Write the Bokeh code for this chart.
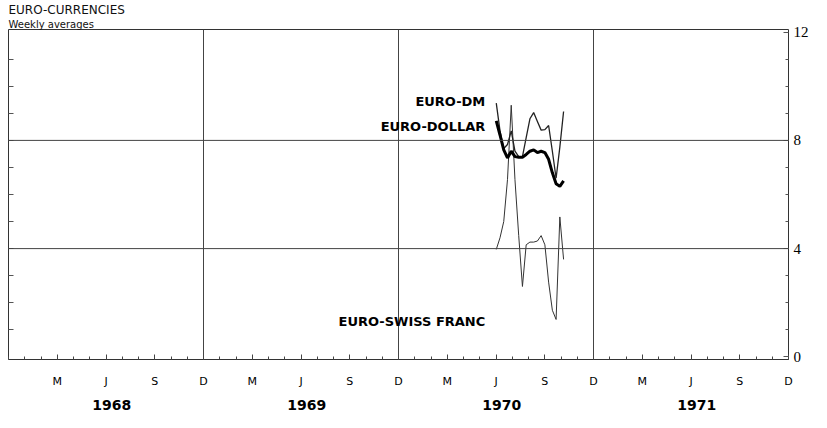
from datetime import date
from bokeh.plotting import figure
from bokeh.models import LinearAxis, FixedTicker, Label, Span, Range1d, Title
from bokeh.embed import file_html
from bokeh.resources import INLINE

# ---- data (weekly averages, percent) ----
week_dates = ["1970-07-03", "1970-07-10", "1970-07-17", "1970-07-24", "1970-07-31",
              "1970-08-07", "1970-08-14", "1970-08-21", "1970-08-28", "1970-09-04",
              "1970-09-11", "1970-09-18", "1970-09-25", "1970-10-02", "1970-10-09",
              "1970-10-16", "1970-10-23", "1970-10-30", "1970-11-06"]
euro_dm = [9.38, 8.35, 7.7, 7.85, 8.35, 7.6, 7.4, 7.4, 8.1, 8.8,
           9.03, 8.7, 8.38, 8.4, 8.55, 7.6, 6.6, 7.75, 9.07]
euro_dollar = [8.72, 8.2, 7.65, 7.35, 7.6, 7.4, 7.38, 7.38, 7.48, 7.6,
               7.65, 7.55, 7.6, 7.55, 7.3, 6.8, 6.4, 6.3, 6.5]
euro_swiss = [3.97, 4.4, 5.0, 6.55, 9.3, 6.55, 4.48, 2.6, 4.14, 4.24,
              4.24, 4.28, 4.48, 4.14, 2.76, 1.72, 1.38, 5.17, 3.6]

years = [1968, 1969, 1970, 1971]
month_tick_labels = ["M", "J", "S", "D"]
y_ticks = [0, 4, 8, 12]
series_names = ["EURO-DM", "EURO-DOLLAR", "EURO-SWISS FRANC"]


def dec_year(s):
    d = date.fromisoformat(s)
    return d.year + (d.timetuple().tm_yday - 1) / 365.0


xs = [dec_year(s) for s in week_dates]

p = figure(width=811, height=412, output_backend="svg", toolbar_location=None,
           x_range=Range1d(years[0], years[-1] + 1), y_range=Range1d(-0.1, 12.1),
           x_axis_location=None, y_axis_location=None,
           min_border_left=8, min_border_right=20, min_border_top=0, min_border_bottom=50,
           background_fill_color="white", border_fill_color="white")
p.xgrid.visible = False
p.ygrid.visible = False
p.outline_line_color = "#333333"
p.outline_line_width = 1

# titles
p.add_layout(Title(text="Weekly averages", text_font="DejaVu Sans", text_font_size="10px",
                   text_font_style="normal", text_color="#111111", align="left",
                   offset=0, standoff=0), "above")
p.add_layout(Title(text="EURO-CURRENCIES", text_font="DejaVu Sans", text_font_size="12px",
                   text_font_style="normal", text_color="#111111", align="left",
                   offset=0, standoff=0), "above")

# grid lines at year boundaries and at 4 / 8
for yr in years[1:]:
    p.add_layout(Span(location=yr, dimension="height", line_color="#444444", line_width=1))
for yv in y_ticks[1:-1]:
    p.add_layout(Span(location=yv, dimension="width", line_color="#444444", line_width=1))

# bottom month axis
q_ticks = [yr + k / 4 for yr in years for k in range(1, 5)]
m_ticks = [yr + k / 12 for yr in years for k in range(0, 13)]
xax = LinearAxis(ticker=FixedTicker(ticks=q_ticks, minor_ticks=m_ticks),
                 major_label_overrides={t: month_tick_labels[i % 4] for i, t in enumerate(q_ticks)},
                 axis_line_color=None, major_tick_in=5, major_tick_out=0,
                 minor_tick_in=3, minor_tick_out=0,
                 major_tick_line_color="#444444", minor_tick_line_color="#444444",
                 major_label_standoff=15, major_label_text_font="DejaVu Sans",
                 major_label_text_font_size="11px", major_label_text_color="#000000")
p.add_layout(xax, "below")

year_ticks = [yr + 0.53 for yr in years]
yax_lbl = LinearAxis(ticker=FixedTicker(ticks=year_ticks),
                     major_label_overrides={t: str(years[i]) for i, t in enumerate(year_ticks)},
                     axis_line_color=None, major_tick_line_color=None, minor_tick_line_color=None,
                     major_label_standoff=3, major_label_text_font="DejaVu Sans",
                     major_label_text_font_style="bold", major_label_text_font_size="14px",
                     major_label_text_color="#000000")
p.add_layout(yax_lbl, "below")

# right value axis
rax = LinearAxis(ticker=FixedTicker(ticks=y_ticks, minor_ticks=list(range(0, 13))),
                 axis_line_color=None, major_tick_in=5, major_tick_out=0,
                 minor_tick_in=3, minor_tick_out=0,
                 major_tick_line_color="#555555", minor_tick_line_color="#555555",
                 major_label_standoff=5, major_label_text_font="Liberation Serif",
                 major_label_text_font_size="15px", major_label_text_color="#000000")
p.add_layout(rax, "right")

# left ticks only
lax = LinearAxis(ticker=FixedTicker(ticks=list(range(1, 12))),
                 major_label_overrides={i: "" for i in range(1, 12)},
                 axis_line_color=None, major_tick_in=5, major_tick_out=0,
                 minor_tick_line_color=None, major_tick_line_color="#555555",
                 major_label_standoff=0, major_label_text_font_size="1px")
p.add_layout(lax, "left")

# series
p.line(xs, euro_swiss, line_color="#333333", line_width=1)
p.line(xs, euro_dm, line_color="#222222", line_width=1.3)
p.line(xs, euro_dollar, line_color="#000000", line_width=3)

lbl_x = 1970.445
for name, yv in zip(series_names, [9.45, 8.5, 1.3]):
    p.add_layout(Label(x=lbl_x, y=yv, text=name, text_align="right", text_baseline="middle",
                       text_font="DejaVu Sans", text_font_style="bold", text_font_size="13px",
                       text_color="#000000"))

open("out.html", "w").write(file_html(p, INLINE))
